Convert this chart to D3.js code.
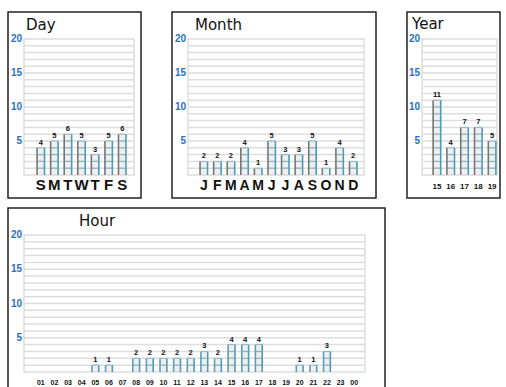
<!DOCTYPE html>
<html>
<head>
<meta charset="utf-8">
<script src="https://cdn.jsdelivr.net/npm/d3@7"></script>
<style>
  body { margin: 0; background: #fff; }
  svg { display: block; }
</style>
</head>
<body>
<div id="chart"></div>
<script>
"use strict";

// chart values
const dayLabels = ["S", "M", "T", "W", "T", "F", "S"];
const dayValues = [4, 5, 6, 5, 3, 5, 6];
const monthLabels = ["J", "F", "M", "A", "M", "J", "J", "A", "S", "O", "N", "D"];
const monthValues = [2, 2, 2, 4, 1, 5, 3, 3, 5, 1, 4, 2];
const yearLabels = ["15", "16", "17", "18", "19"];
const yearValues = [11, 4, 7, 7, 5];
const hourLabels = ["01","02","03","04","05","06","07","08","09","10","11","12",
                    "13","14","15","16","17","18","19","20","21","22","23","00"];
const hourValues = [0,0,0,0,1,1,0,2,2,2,2,2,3,2,4,4,4,0,0,1,1,3,0,0];
const yTicks = [5, 10, 15, 20];

const svg = d3.select("#chart").append("svg")
    .attr("width", 506).attr("height", 387);

// one panel = box, title, grid, bars
function panel(p) {
  const g = svg.append("g");

  g.append("rect")
    .attr("x", p.box[0]).attr("y", p.box[1])
    .attr("width", p.box[2]).attr("height", p.box[3])
    .attr("fill", "#fff").attr("stroke", "#222").attr("stroke-width", 1.5);

  g.append("text")
    .attr("x", p.titleX).attr("y", p.titleY)
    .attr("font-family", "DejaVu Sans, sans-serif").attr("font-size", 15)
    .attr("fill", "#111").text(p.title);

  const y = d3.scaleLinear().domain([0, 20]).range([p.plot[3], p.plot[1]]);
  const x = d3.scaleBand().domain(d3.range(p.labels.length))
      .range([p.xr[0], p.xr[1]]).paddingInner(p.pad).paddingOuter(p.pad / 2);

  // plot frame and grid lines every unit
  g.append("rect")
    .attr("x", p.plot[0]).attr("y", p.plot[1])
    .attr("width", p.plot[2] - p.plot[0]).attr("height", p.plot[3] - p.plot[1])
    .attr("fill", "none").attr("stroke", "#ddd").attr("stroke-width", 1.5);
  g.selectAll(".grid").data(d3.range(1, 20)).enter().append("line")
    .attr("x1", p.plot[0]).attr("x2", p.plot[2])
    .attr("y1", d => y(d)).attr("y2", d => y(d))
    .attr("stroke", "#ddd").attr("stroke-width", 1.5);

  // y tick labels
  g.selectAll(".yl").data(yTicks).enter().append("text")
    .attr("x", p.plot[0] - 2).attr("y", d => y(d) + 3)
    .attr("text-anchor", "end")
    .attr("font-family", "Liberation Sans, Arial, sans-serif")
    .attr("font-weight", "bold").attr("font-size", 10)
    .attr("fill", "#2a6fc4").text(d => d);

  // bars
  const bars = g.selectAll(".bar").data(p.values.map((v, i) => ({v, i})).filter(d => d.v > 0))
    .enter().append("g");
  bars.append("rect")
    .attr("x", d => x(d.i)).attr("y", d => y(d.v))
    .attr("width", x.bandwidth()).attr("height", d => y(0) - y(d.v))
    .attr("fill", "#d8d8d8").attr("fill-opacity", 0.4);
  bars.each(function(d) {
    const b = d3.select(this);
    const x0 = x(d.i), x1 = x(d.i) + x.bandwidth();
    b.selectAll("line.u").data(d3.range(1, d.v)).enter().append("line")
      .attr("x1", x0).attr("x2", x1)
      .attr("y1", u => y(u)).attr("y2", u => y(u))
      .attr("stroke", "#6aa8bf").attr("stroke-width", 1.2).attr("stroke-opacity", 0.7);
  });
  bars.append("line")
    .attr("x1", d => x(d.i)).attr("x2", d => x(d.i))
    .attr("y1", d => y(d.v)).attr("y2", y(0))
    .attr("stroke", p.leftColor).attr("stroke-width", 1.6);
  bars.append("line")
    .attr("x1", d => x(d.i) + x.bandwidth()).attr("x2", d => x(d.i) + x.bandwidth())
    .attr("y1", d => y(d.v)).attr("y2", y(0))
    .attr("stroke", "#4e9bb5").attr("stroke-width", 1.6);
  bars.append("line")
    .attr("x1", d => x(d.i)).attr("x2", d => x(d.i) + x.bandwidth())
    .attr("y1", d => y(d.v)).attr("y2", d => y(d.v))
    .attr("stroke", "#8bbccc").attr("stroke-width", 1);

  // value labels
  bars.append("text")
    .attr("x", d => x(d.i) + x.bandwidth() / 2).attr("y", d => y(d.v) - 3)
    .attr("text-anchor", "middle")
    .attr("font-family", "Liberation Sans, Arial, sans-serif")
    .attr("font-weight", "bold").attr("font-size", 7.5)
    .attr("fill", "#111").text(d => d.v);

  // category labels
  g.selectAll(".xl").data(p.labels).enter().append("text")
    .attr("x", (d, i) => x(i) + x.bandwidth() / 2).attr("y", p.labelY)
    .attr("text-anchor", "middle")
    .attr("font-family", "Liberation Sans, Arial, sans-serif")
    .attr("font-weight", p.labelWeight).attr("font-size", p.labelSize)
    .attr("fill", "#111").text(d => d);
}

panel({title: "Day", titleX: 26, titleY: 30, box: [8, 12, 133, 186],
  plot: [24, 39, 134, 175], xr: [34, 129], pad: 0.45,
  labels: dayLabels, values: dayValues, labelY: 190, labelSize: 15, labelWeight: "bold",
  leftColor: "#777"});

panel({title: "Month", titleX: 195, titleY: 30, box: [172, 12, 204, 186],
  plot: [188, 39, 364, 175], xr: [197, 360], pad: 0.45,
  labels: monthLabels, values: monthValues, labelY: 190, labelSize: 14, labelWeight: "bold",
  leftColor: "#777"});

panel({title: "Year", titleX: 412, titleY: 29, box: [407, 12, 93, 186],
  plot: [422, 39, 497, 175], xr: [430, 499], pad: 0.45,
  labels: yearLabels, values: yearValues, labelY: 189, labelSize: 8, labelWeight: "bold",
  leftColor: "#777"});

panel({title: "Hour", titleX: 79, titleY: 226, box: [8, 208, 377, 190],
  plot: [24, 235, 365, 372], xr: [34, 361], pad: 0.5,
  labels: hourLabels, values: hourValues, labelY: 385, labelSize: 7, labelWeight: "bold",
  leftColor: "#5f9fb6"});
</script>
</body>
</html>
